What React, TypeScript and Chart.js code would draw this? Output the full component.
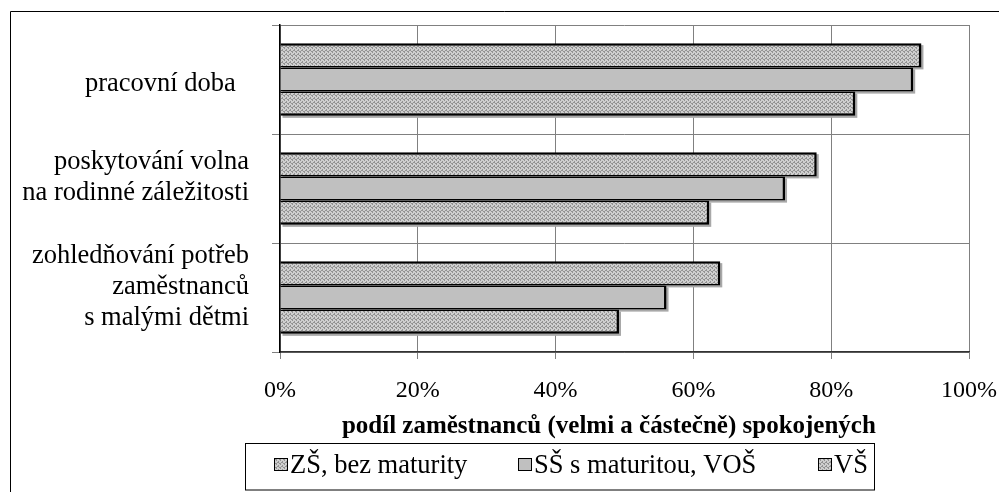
import React, { useEffect, useRef } from "react";
import { Chart, registerables } from "chart.js";

Chart.register(...registerables);

const categories: (string | string[])[] = [
  "pracovní doba  ",
  ["poskytování volna", "na rodinné záležitosti", ""],
  ["zohledňování potřeb", "zaměstnanců", "s malými dětmi", ""],
];
const seriesNames = ["ZŠ, bez maturity", "SŠ s maturitou, VOŠ", "VŠ"];
const zsValues = [93.1, 77.9, 63.9];
const ssValues = [91.9, 73.3, 56.1];
const vsValues = [83.5, 62.3, 49.2];
const xMin = 0;
const xMax = 100;
const xStep = 20;
const axisTitle = "podíl zaměstnanců (velmi a částečně) spokojených\u00a0\u00a0\u00a0\u00a0\u00a0";

const FONT = "'Liberation Serif', 'Times New Roman', serif";

function makePattern(): CanvasPattern | string {
  const c = document.createElement("canvas");
  c.width = 4;
  c.height = 4;
  const g = c.getContext("2d");
  if (!g) return "#b8b8b8";
  g.fillStyle = "#cfcfcf";
  g.fillRect(0, 0, 4, 4);
  g.fillStyle = "#939393";
  g.fillRect(0, 0, 1, 1);
  g.fillRect(2, 1, 1, 1);
  g.fillRect(1, 2, 1, 1);
  g.fillRect(3, 3, 1, 1);
  g.fillRect(2, 2, 1, 1);
  g.fillRect(0, 3, 1, 1);
  const p = g.createPattern(c, "repeat");
  return p || "#b8b8b8";
}

const framePlugin = {
  id: "frameAndLegend",
  beforeDatasetsDraw(chart: any) {
    const ctx = chart.ctx;
    ctx.save();
    ctx.fillStyle = "#a8a8a8";
    chart.data.datasets.forEach((_ds: any, i: number) => {
      const meta = chart.getDatasetMeta(i);
      meta.data.forEach((el: any) => {
        const { x, y, base, height } = el.getProps(["x", "y", "base", "height"], true);
        ctx.fillRect(base + 2, y - height / 2 + 2, x - base, height);
      });
    });
    ctx.restore();
  },
  afterDraw(chart: any) {
    const ctx = chart.ctx;
    ctx.save();
    ctx.strokeStyle = "#000";
    ctx.lineWidth = 1;
    ctx.beginPath();
    ctx.moveTo(10.5, chart.height);
    ctx.lineTo(10.5, 11.5);
    ctx.lineTo(chart.width, 11.5);
    ctx.stroke();
    const bx = 245.5, by = 443.5, bw = 629, bh = 46.5;
    ctx.strokeRect(bx, by, bw, bh);
    const itemX = [274, 518, 818];
    ctx.font = `26.5px ${FONT}`;
    ctx.textBaseline = "middle";
    ctx.textAlign = "left";
    chart.data.datasets.forEach((ds: any, i: number) => {
      const x = itemX[i];
      const y = 458;
      ctx.fillStyle = ds.backgroundColor;
      ctx.fillRect(x, y, 14, 13);
      ctx.strokeStyle = "#000";
      ctx.lineWidth = 1;
      ctx.strokeRect(x + 0.5, y + 0.5, 13, 12);
      ctx.fillStyle = "#000";
      ctx.fillText(ds.label, x + 16, 466);
    });
    ctx.restore();
  },
};

export default function App() {
  const ref = useRef<HTMLCanvasElement | null>(null);
  useEffect(() => {
    if (!ref.current) return;
    const pat1 = makePattern();
    const pat3 = makePattern();
    const chart = new Chart(ref.current, {
      type: "bar",
      data: {
        labels: categories as any,
        datasets: [
          {
            label: seriesNames[0],
            data: zsValues,
            backgroundColor: pat1 as any,
            borderColor: "#000",
            borderWidth: { top: 2.5, bottom: 1.5, right: 2.5, left: 0 } as any,
            borderSkipped: false as any,
          },
          {
            label: seriesNames[1],
            data: ssValues,
            backgroundColor: "#c0c0c0",
            borderColor: "#000",
            borderWidth: { top: 1.5, bottom: 1.5, right: 2.5, left: 0 } as any,
            borderSkipped: false as any,
          },
          {
            label: seriesNames[2],
            data: vsValues,
            backgroundColor: pat3 as any,
            borderColor: "#000",
            borderWidth: { top: 1.5, bottom: 2.5, right: 2.5, left: 0 } as any,
            borderSkipped: false as any,
          },
        ],
      },
      options: {
        indexAxis: "y",
        responsive: false,
        animation: false,
        devicePixelRatio: 1,
        layout: { padding: { top: 25, right: 30, bottom: 50, left: 0 } },
        datasets: { bar: { categoryPercentage: 0.667, barPercentage: 1 } },
        plugins: { legend: { display: false }, tooltip: { enabled: false } },
        scales: {
          x: {
            min: xMin,
            max: xMax,
            afterFit: (s: any) => {
              s.height = 90;
              s.paddingLeft = 0;
              s.paddingRight = 0;
            },
            ticks: {
              stepSize: xStep,
              padding: 17,
              color: "#000",
              maxRotation: 0,
              autoSkip: false,
              font: { family: FONT, size: 24 },
              callback: (v: any) => `${v}%`,
            },
            grid: { color: "#808080", tickLength: 7, lineWidth: 1 },
            border: { color: "#333", width: 1.5 },
            title: {
              display: true,
              text: axisTitle,
              color: "#000",
              padding: { top: 0, bottom: 0 },
              font: { family: FONT, size: 25, weight: "bold" },
            },
          },
          y: {
            afterFit: (s: any) => {
              s.width = 280;
              s.paddingTop = 0;
              s.paddingBottom = 0;
            },
            ticks: {
              padding: 23,
              color: "#000",
              autoSkip: false,
              labelOffset: 5,
              font: { family: FONT, size: 26.5, lineHeight: 1.17 },
            },
            grid: { color: "#808080", tickLength: 8, offset: true },
            border: { color: "#000", width: 1.5 },
          },
        },
      },
      plugins: [framePlugin],
    });
    return () => chart.destroy();
  }, []);
  return (
    <div style={{ position: "fixed", left: 0, top: 0, width: 999, height: 492, background: "#fff" }}>
      <canvas ref={ref} width={999} height={492} style={{ display: "block" }} />
    </div>
  );
}
